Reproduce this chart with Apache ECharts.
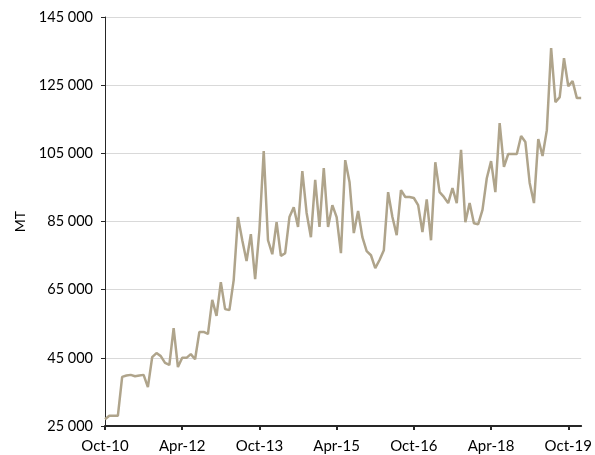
<!DOCTYPE html>
<html>
<head>
<meta charset="utf-8">
<script src="https://cdn.jsdelivr.net/npm/echarts@6/dist/echarts.min.js"></script>
<style>
  html, body { margin: 0; padding: 0; background: #fff; }
  #chart { width: 595px; height: 455px; }
</style>
</head>
<body>
<div id="chart"></div>
<script>
// monthly volumes, Oct-10 .. Jan-20
const monthNames = ['Jan', 'Feb', 'Mar', 'Apr', 'May', 'Jun', 'Jul', 'Aug', 'Sep', 'Oct', 'Nov', 'Dec']
const startYear = 2010
const startMonth = 9 // Oct
const volumes = [
  27000, 28000, 28000, 28000, 39400, 39800, 40000, 39600, 39800, 40000,
  36400, 45200, 46400, 45500, 43500, 42900, 53700, 42300, 45000, 45000,
  46100, 44600, 52600, 52600, 52000, 62000, 57300, 67200, 59300, 59000,
  67800, 86300, 79500, 73400, 81300, 68100, 82500, 105700, 79500, 75400,
  84800, 74900, 75700, 86300, 89200, 83400, 99800, 87500, 80400, 97200,
  83400, 100700, 83400, 89800, 86300, 75700, 103000, 96600, 81600, 88100,
  80400, 76300, 75100, 71300, 73700, 76600, 93600, 86300, 81000, 94200,
  92200, 92200, 91900, 89800, 81900, 91500, 79500, 102400, 93600, 92200,
  90400, 94800, 90400, 106000, 84800, 90400, 84500, 84200, 88400, 97700,
  102700, 93600, 113900, 101000, 104800, 104800, 104800, 110100, 108300, 96300,
  90400, 109200, 104200, 111800, 135900, 120000, 121500, 132900, 124700, 126200,
  121200, 121200
]
const labelEvery = 18

const categories = volumes.map((v, i) => {
  const m = startMonth + i
  const y = startYear + Math.floor(m / 12)
  return monthNames[m % 12] + '-' + String(y).slice(2)
})

const fmt = v => String(v).replace(/\B(?=(\d{3})+(?!\d))/g, ' ')

const chart = echarts.init(document.getElementById('chart'))
chart.setOption({
  animation: false,
  textStyle: { fontFamily: 'Lato' },
  grid: { left: 105, right: 12, top: 17, bottom: 29 },
  xAxis: {
    type: 'category',
    data: categories,
    boundaryGap: false,
    axisLine: { lineStyle: { color: '#262626', width: 2 } },
    axisTick: {
      interval: (i) => i % labelEvery === 0,
      length: 4,
      lineStyle: { color: '#262626', width: 2 }
    },
    axisLabel: {
      interval: (i) => i % labelEvery === 0,
      color: '#000',
      fontSize: 15,
      margin: 13,
      fontFamily: 'Lato'
    },
    splitLine: { show: false }
  },
  yAxis: {
    type: 'value',
    min: 25000,
    max: 145000,
    interval: 20000,
    name: 'MT',
    nameLocation: 'middle',
    nameGap: 77,
    nameRotate: 90,
    nameTextStyle: { color: '#000', fontSize: 14, fontFamily: 'Lato' },
    axisLine: { show: true, lineStyle: { color: '#262626', width: 1 } },
    axisTick: { show: true, length: 4, lineStyle: { color: '#262626' } },
    axisLabel: {
      color: '#000',
      fontSize: 14.5,
      margin: 12,
      fontFamily: 'Lato',
      formatter: fmt
    },
    splitLine: { lineStyle: { color: '#d9d9d9', width: 1 } }
  },
  series: [
    {
      type: 'line',
      data: volumes,
      symbol: 'none',
      lineStyle: { color: '#afa48b', width: 2.5 },
      itemStyle: { color: '#afa48b' }
    }
  ]
})
</script>
</body>
</html>
